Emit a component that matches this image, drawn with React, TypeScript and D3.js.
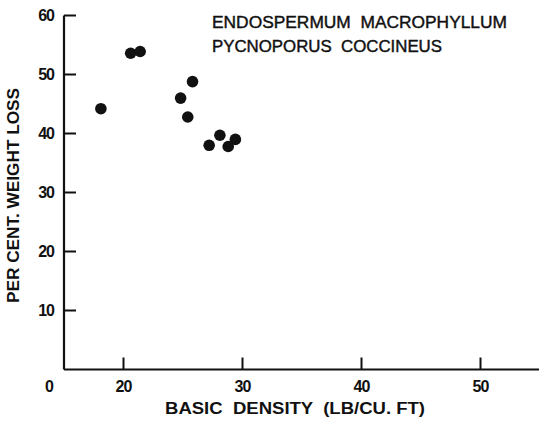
import React from "react";
import * as d3 from "d3";

const density = [18.1, 20.6, 21.4, 24.8, 25.8, 25.4, 27.2, 28.1, 28.8, 29.4];
const weightLoss = [44.2, 53.6, 53.9, 46.0, 48.8, 42.8, 38.0, 39.7, 37.8, 39.0];
const xTicks = [20, 30, 40, 50];
const yTicks = [10, 20, 30, 40, 50, 60];
const titleLines = ["ENDOSPERMUM  MACROPHYLLUM", "PYCNOPORUS  COCCINEUS"];
const xTitle = "BASIC  DENSITY  (LB/CU. FT)";
const yTitle = "PER CENT. WEIGHT LOSS";

export default function App() {
  const W = 539, H = 427;
  const x = d3.scaleLinear().domain([15, 55]).range([64, 540]);
  const y = d3.scaleLinear().domain([0, 60]).range([369.5, 15.5]);
  const font = "'Liberation Sans', Arial, sans-serif";
  const ink = "#111";
  return (
    <svg width={W} height={H} style={{ position: "absolute", left: 0, top: 0, background: "#fff" }}
      fontFamily={font} xmlSpace="preserve">
      <line x1={x(15)} x2={x(15)} y1={y(60)} y2={y(0)} stroke={ink} strokeWidth={2.2} />
      <line x1={x(15)} x2={W} y1={y(0)} y2={y(0)} stroke={ink} strokeWidth={2.2} />
      {yTicks.map((t) => (
        <g key={"y" + t}>
          <line x1={x(15)} x2={x(15) + 12} y1={y(t)} y2={y(t)} stroke={ink} strokeWidth={2} />
          <text x={54} y={y(t)} dy="0.36em" textAnchor="end" fontSize={16} fontWeight="bold" fill={ink} letterSpacing={-1}>
            {t}
          </text>
        </g>
      ))}
      <text x={54} y={392} textAnchor="end" fontSize={16} fontWeight="bold" fill={ink}>0</text>
      {xTicks.map((t) => (
        <g key={"x" + t}>
          <line x1={x(t)} x2={x(t)} y1={y(0)} y2={y(0) - 12} stroke={ink} strokeWidth={2} />
          <text x={x(t)} y={392} textAnchor="middle" fontSize={16} fontWeight="bold" fill={ink} letterSpacing={-1}>
            {t}
          </text>
        </g>
      ))}
      <text x={165} y={414} fontSize={16} fontWeight="bold" fill={ink} textLength={260} lengthAdjust="spacingAndGlyphs" xmlSpace="preserve">
        {xTitle}
      </text>
      <text transform="translate(19,303) rotate(-90)" fontSize={16} fontWeight="bold" fill={ink}
        textLength={215} lengthAdjust="spacingAndGlyphs">
        {yTitle}
      </text>
      {titleLines.map((s, i) => (
        <text key={s} x={212} y={28 + i * 24} fontSize={16} fill={ink} xmlSpace="preserve"
          textLength={i === 0 ? 295 : 230} lengthAdjust="spacingAndGlyphs" stroke={ink} strokeWidth={0.4}>
          {s}
        </text>
      ))}
      {density.map((d, i) => (
        <circle key={i} cx={x(d)} cy={y(weightLoss[i])} r={5.8} fill={ink} />
      ))}
    </svg>
  );
}
